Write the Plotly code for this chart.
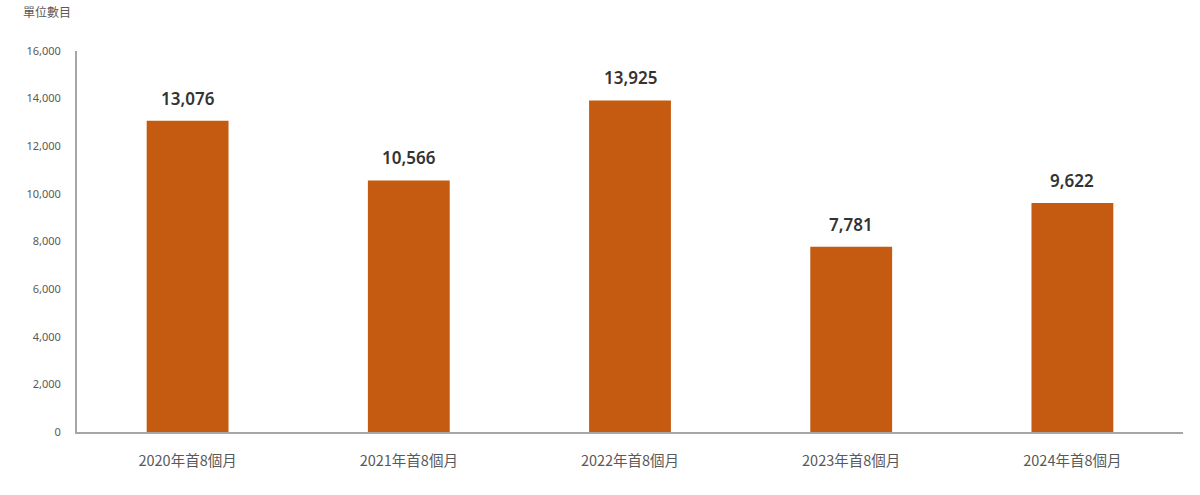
import plotly.graph_objects as go

categories = ["2020年首8個月", "2021年首8個月", "2022年首8個月", "2023年首8個月", "2024年首8個月"]
values = [13076, 10566, 13925, 7781, 9622]
y_ticks = [0, 2000, 4000, 6000, 8000, 10000, 12000, 14000, 16000]
y_tick_labels = [f"{v:,}" for v in y_ticks]
y_title = "單位數目"

bar_color = "#C55A11"
font_family = "Noto Sans CJK TC, Noto Sans, sans-serif"

fig = go.Figure()
fig.add_trace(go.Bar(
    x=categories, y=values,
    marker=dict(color=bar_color, line=dict(width=0)),
    hoverinfo="x+y",
))

for c, v in zip(categories, values):
    fig.add_annotation(
        x=c, y=v, text=f"{v:,}", showarrow=False,
        yanchor="bottom", yshift=9,
        font=dict(family="Noto Sans, sans-serif", size=17, color="#333333", weight=600),
    )

fig.add_annotation(
    xref="paper", yref="paper", x=-0.027, y=1.075,
    xanchor="center", yanchor="bottom", text=y_title, showarrow=False,
    font=dict(family=font_family, size=12, color="#595959"),
)

fig.update_layout(
    width=1200, height=495,
    margin=dict(l=77, r=17, t=51, b=63),
    paper_bgcolor="white", plot_bgcolor="white",
    bargap=0.63,
    showlegend=False,
    font=dict(family=font_family, color="#595959"),
    xaxis=dict(
        showline=True, linecolor="#A6A6A6", linewidth=2,
        showgrid=False, ticks="",
        tickfont=dict(family=font_family, size=14.5, color="#595959"),
        ticklabelstandoff=15,
    ),
    yaxis=dict(
        range=[0, 16000], tickvals=y_ticks, ticktext=y_tick_labels,
        showline=True, linecolor="#A6A6A6", linewidth=2,
        showgrid=False, zeroline=False, ticks="",
        tickfont=dict(family="Noto Sans, sans-serif", size=11, color="#595959"),
        ticklabelstandoff=12,
    ),
)

fig.write_html("out.html")
